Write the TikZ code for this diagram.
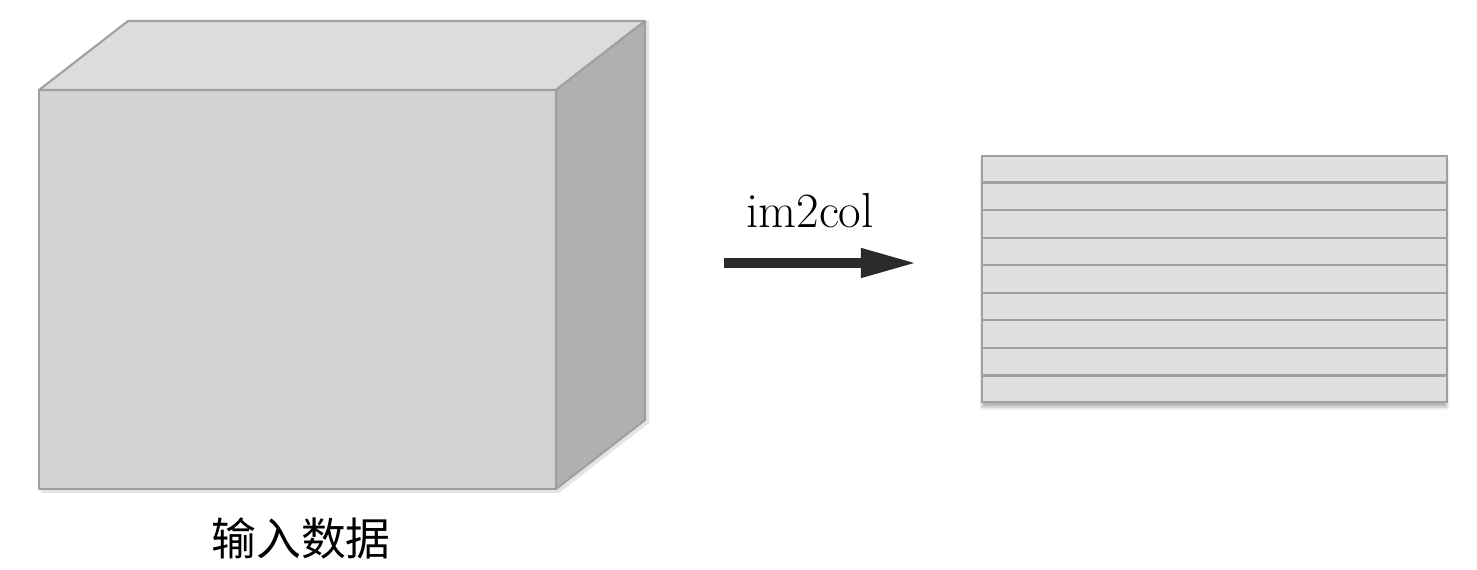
\documentclass[tikz,border=0pt]{standalone}
\usepackage{fontspec}
\newfontfamily\cjk{Noto Sans CJK SC}
\usetikzlibrary{arrows.meta,calc,shadows.blur}

\definecolor{topgray}{HTML}{DCDCDA}
\definecolor{frontgray}{HTML}{D3D3D3}
\definecolor{sidegray}{HTML}{B0B0B0}
\definecolor{edgegray}{HTML}{A0A0A0}
\definecolor{rowgray}{HTML}{E0E0E0}
\definecolor{arrowblack}{HTML}{2A2A2A}

\tikzset{
	face/.style={draw=edgegray, line width=1.2pt, line join=round},
	matrixbox/.style={draw=edgegray, fill=rowgray, line width=1.2pt, minimum width=9.3cm, minimum height=4.92cm, inner sep=0pt, blur shadow={shadow xshift=0pt, shadow yshift=-3pt, shadow blur steps=6, shadow opacity=30}},
	rowline/.style={draw=edgegray, line width=1.2pt}
}

\begin{document}
\begin{tikzpicture}[x=0.02cm,y=-0.02cm]
	\useasboundingbox (0,0) rectangle (1477,570);
	
	% cube
	\coordinate (fnw) at (39,90);
	\coordinate (fne) at (556,90);
	\coordinate (fse) at (556,489);
	\coordinate (fsw) at (39,489);
	\coordinate (bnw) at (128,21);
	\coordinate (bne) at (645,21);
	\coordinate (bse) at (645,420);
	
	\fill[gray!40, opacity=0.5] ($(fsw)+(3,4)$) -- ($(fse)+(3,4)$) -- ($(bse)+(4,3)$) -- ($(bne)+(4,0)$) -- (bne) -- (bse) -- (fse) -- (fsw) -- cycle;
	\draw[face, fill=frontgray] (fnw) -- (fne) -- (fse) -- (fsw) -- cycle;
	\draw[face, fill=topgray] (fnw) -- (bnw) -- (bne) -- (fne) -- cycle;
	\draw[face, fill=sidegray] (fne) -- (bne) -- (bse) -- (fse) -- cycle;
	
	\node[font=\cjk\fontsize{25.5}{30}\selectfont] (input) at (301,538) {输入数据};
	
	% arrow
	\coordinate (from) at (724,263);
	\coordinate (to) at (917,263);
	\draw[arrowblack, line width=5.6pt, -{Triangle[length=32pt,width=15.5pt]}] (from) -- (to);
	\node[font=\fontsize{28}{33}\selectfont] (label) at (810,211) {im2col};
	
	% columns
	\node[matrixbox] (col) at (1214.5,279) {};
	\foreach \i in {1,...,8}
		\draw[rowline] ($(col.north west)!\i/9!(col.south west)$) -- ($(col.north east)!\i/9!(col.south east)$);
	
\end{tikzpicture}
\end{document}
